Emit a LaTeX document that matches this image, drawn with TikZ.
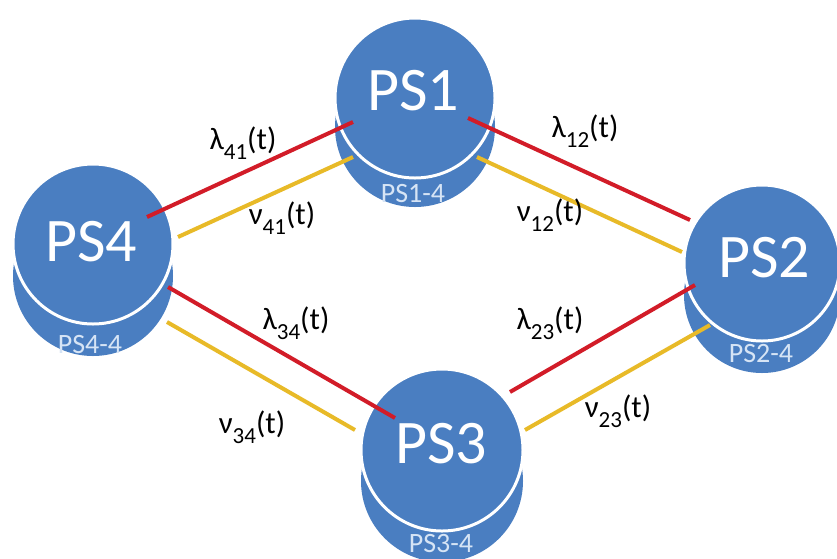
\documentclass[tikz,border=0pt]{standalone}
\usepackage{fontspec}
\setmainfont{Carlito}
\definecolor{nodeblue}{RGB}{74,126,193}
\definecolor{linkred}{RGB}{210,28,40}
\definecolor{linkgold}{RGB}{232,186,40}
\definecolor{sublabel}{RGB}{214,228,245}
\newcommand\rsub[1]{\raisebox{-0.32em}{\fontsize{23}{23}\selectfont #1}}
\begin{document}
\begin{tikzpicture}[x=1pt,y=-1pt,
 disk/.style={circle, fill=nodeblue, inner sep=0pt, minimum size=160pt},
 topdisk/.style={disk, draw=white, line width=3pt},
 big/.style={text=white, font=\fontsize{62}{62}\selectfont, inner sep=0pt},
 small/.style={text=sublabel, font=\fontsize{28}{28}\selectfont, inner sep=0pt},
 lam/.style={draw=linkred, line width=4pt},
 nu/.style={draw=linkgold, line width=4pt},
 rate/.style={text=black, font=\fontsize{31}{31}\selectfont, inner sep=0pt}]
\clip (0,0) rectangle (837,558);
\fill[white] (0,0) rectangle (837,558);
% lower disks
\node[disk] (PS1b) at (415,127) {};
\node[disk] (PS4b) at (93,276) {};
\node[disk, minimum size=156pt] (PS2b) at (762,295) {};
\node[disk, minimum size=162pt] (PS3b) at (442,481) {};
% top disks
\node[topdisk] (PS1) at (415,98) {};
\node[topdisk] (PS4) at (93,244) {};
\node[topdisk, minimum size=156pt] (PS2) at (762,263) {};
\node[topdisk, minimum size=162pt] (PS3) at (442,450) {};
% station labels
\node[big] (PS1t) at (413,91) {PS1};
\node[big] (PS4t) at (91,242) {PS4};
\node[big] (PS2t) at (764,258) {PS2};
\node[big] (PS3t) at (441,444) {PS3};
\node[small] (PS1s) at (413,194) {PS1-4};
\node[small] (PS4s) at (90,345) {PS4-4};
\node[small] (PS2s) at (761,353) {PS2-4};
\node[small] (PS3s) at (441,543) {PS3-4};
% link end points
\coordinate (a41) at (147,217); \coordinate (b41) at (353,122);
\coordinate (c41) at (178,237); \coordinate (d41) at (353,157);
\coordinate (a12) at (468,118); \coordinate (b12) at (690,220);
\coordinate (c12) at (477,157); \coordinate (d12) at (682,252);
\coordinate (a34) at (168,287); \coordinate (b34) at (395,418);
\coordinate (c34) at (167,322); \coordinate (d34) at (355,430);
\coordinate (a23) at (510,392); \coordinate (b23) at (695,285);
\coordinate (c23) at (525,430); \coordinate (d23) at (710,325);
% links
\draw[lam] (a41) -- (b41);
\draw[nu] (c41) -- (d41);
\draw[lam] (a12) -- (b12);
\draw[nu] (c12) -- (d12);
\draw[lam] (a34) -- (b34);
\draw[nu] (c34) -- (d34);
\draw[lam] (a23) -- (b23);
\draw[nu] (c23) -- (d23);
% rate labels
\node[rate] (r41l) at (243,143) {λ\rsub{41}(t)};
\node[rate] (r41n) at (282,218) {ν\rsub{41}(t)};
\node[rate] (r12l) at (585,131) {λ\rsub{12}(t)};
\node[rate] (r12n) at (550,215) {ν\rsub{12}(t)};
\node[rate] (r34l) at (296,323) {λ\rsub{34}(t)};
\node[rate] (r34n) at (252,427) {ν\rsub{34}(t)};
\node[rate] (r23l) at (550,323) {λ\rsub{23}(t)};
\node[rate] (r23n) at (618,411) {ν\rsub{23}(t)};
\end{tikzpicture}
\end{document}
